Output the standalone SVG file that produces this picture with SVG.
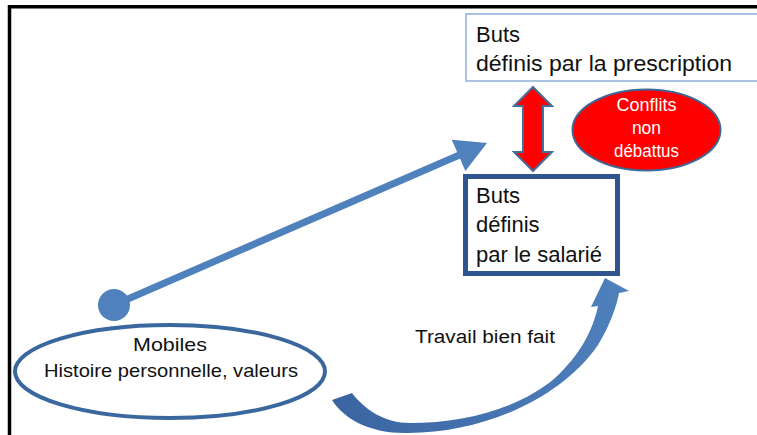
<svg xmlns="http://www.w3.org/2000/svg" width="757" height="435" viewBox="0 0 757 435">
  <defs>
    <style>
      .t { font-family: "Liberation Sans", Arial, sans-serif; fill: #111; }
      .box1 { fill: #fff; stroke: #8eb0db; stroke-width: 1.5; }
      .box2 { fill: #fff; stroke: #2e5590; stroke-width: 5; }
      .blue { fill: #4f81bd; }
      .w { fill: #fff; }
    </style>
    <linearGradient id="cg" x1="0" y1="0" x2="1" y2="0">
      <stop offset="0" stop-color="#3a64a0"/>
      <stop offset="1" stop-color="#4f81bd"/>
    </linearGradient>
  </defs>
  <rect x="0" y="0" width="757" height="435" fill="#fff"/>
  <!-- frame -->
  <line x1="9" y1="6.7" x2="757" y2="6.7" stroke="#000" stroke-width="3.5"/>
  <line x1="9.5" y1="5" x2="9.5" y2="435" stroke="#000" stroke-width="3.5"/>

  <g id="connectors">
    <line x1="114" y1="305" x2="460" y2="154.7" stroke="#4f81bd" stroke-width="7"/>
    <polygon class="blue" points="487,143 465.4,170.9 451.8,139.7"/>
    <path fill="url(#cg)" d="M332,400 C345,420 370,433 405,433 C480,434 560,400 598,345 C610,325 617,305 619,293 L629,291 L605,278 L591,307 L598,306 C593,330 580,355 555,378 C520,408 465,423 410,423 C385,423 365,410 352,393 Z"/>
    <polygon fill="#ff0000" stroke="#41719c" stroke-width="2" points="533,87 552,106 543,106 543,152 552,152 533,171 514,152 523,152 523,106 514,106"/>
  </g>

  <g id="node-prescription">
    <rect class="box1" x="466" y="14" width="300" height="67"/>
    <text class="t" x="476" y="42" font-size="22">Buts</text>
    <text class="t" x="476" y="71" font-size="22" textLength="256" lengthAdjust="spacingAndGlyphs">définis par la prescription</text>
  </g>

  <g id="node-conflits">
    <ellipse cx="646.5" cy="130" rx="74" ry="40.5" fill="#ff0000" stroke="#3d6796" stroke-width="2"/>
    <text class="t w" x="646.5" y="111" font-size="17.5" text-anchor="middle" textLength="60" lengthAdjust="spacingAndGlyphs">Conflits</text>
    <text class="t w" x="646.5" y="134" font-size="17.5" text-anchor="middle">non</text>
    <text class="t w" x="646.5" y="157" font-size="17.5" text-anchor="middle" textLength="65" lengthAdjust="spacingAndGlyphs">débattus</text>
  </g>

  <g id="node-salarie">
    <rect class="box2" x="465.5" y="176.5" width="152" height="97"/>
    <text class="t" x="476" y="203" font-size="22">Buts</text>
    <text class="t" x="476" y="232" font-size="22">définis</text>
    <text class="t" x="476" y="262" font-size="22">par le salarié</text>
  </g>

  <g id="node-start">
    <circle cx="114" cy="305" r="16" fill="#4f81bd"/>
  </g>

  <g id="node-mobiles">
    <ellipse cx="170" cy="371.5" rx="155" ry="46.5" fill="#fff" stroke="#3a679e" stroke-width="4"/>
    <text class="t" x="170" y="351" font-size="19" text-anchor="middle" textLength="74" lengthAdjust="spacingAndGlyphs">Mobiles</text>
    <text class="t" x="171" y="377" font-size="18.5" text-anchor="middle" textLength="254" lengthAdjust="spacingAndGlyphs">Histoire personnelle, valeurs</text>
  </g>

  <g id="label-travail">
    <text class="t" x="415" y="343" font-size="18" textLength="140" lengthAdjust="spacingAndGlyphs">Travail bien fait</text>
  </g>
</svg>
